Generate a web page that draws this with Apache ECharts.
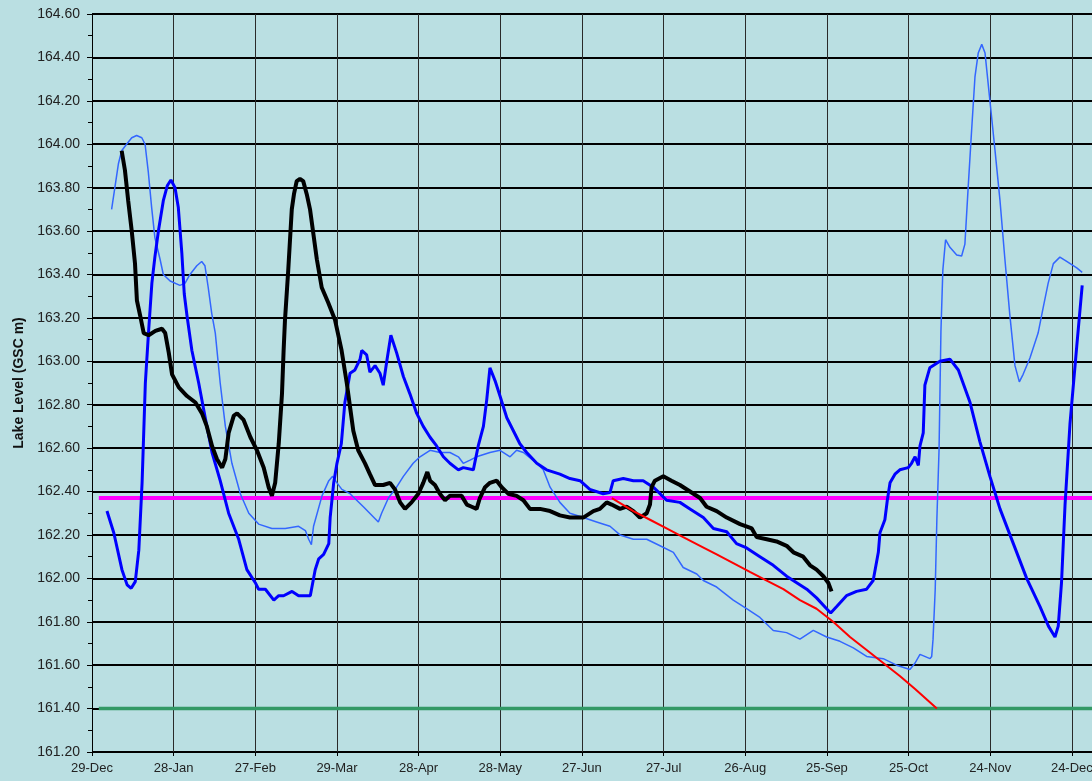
<!DOCTYPE html>
<html>
<head>
<meta charset="utf-8">
<script src="https://cdn.jsdelivr.net/npm/echarts@6/dist/echarts.min.js"></script>
<style>
html,body{margin:0;padding:0;background:#badfe2;}
#chart{width:1092px;height:781px;}
</style>
</head>
<body>
<div id="chart"></div>
<script>
// x values are days after 29-Dec
const tickLabels = ['29-Dec','28-Jan','27-Feb','29-Mar','28-Apr','28-May','27-Jun','27-Jul','26-Aug','25-Sep','25-Oct','24-Nov','24-Dec'];

const thinBlue = [
[7.2,163.70],[8.4,163.80],[9.7,163.91],[10.9,163.97],[12.7,164.00],[14.6,164.03],[16.4,164.04],[18.3,164.03],
[19.5,164.00],[20.7,163.87],[21.9,163.71],[23.1,163.57],[25.0,163.47],[26.2,163.40],[28.7,163.37],[32.3,163.35],
[34.2,163.36],[36.0,163.40],[38.5,163.44],[40.3,163.46],[41.5,163.44],[42.7,163.34],[44.0,163.22],[45.3,163.13],
[47.1,162.90],[49.0,162.70],[51.4,162.53],[54.5,162.39],[57.6,162.30],[61.2,162.25],[66.1,162.23],[71.0,162.23],
[75.9,162.24],[78.4,162.22],[79.6,162.18],[80.6,162.155],[81.4,162.24],[84.5,162.38],[87.0,162.45],[88.4,162.47],
[90.0,162.44],[91.8,162.41],[94.8,162.39],[99.7,162.33],[105.2,162.26],[106.4,162.30],[108.9,162.37],[111.9,162.42],
[114.4,162.47],[118.0,162.53],[120.5,162.56],[124.2,162.59],[127.8,162.58],[131.5,162.58],[134.6,162.56],[136.4,162.53],
[138.9,162.545],[141.3,162.56],[146.2,162.58],[149.9,162.59],[153.6,162.56],[156.0,162.59],[158.5,162.58],[163.4,162.53],
[165.8,162.50],[168.3,162.42],[171.9,162.35],[175.6,162.30],[180.5,162.28],[185.4,162.26],[190.3,162.24],[194.0,162.20],
[198.9,162.18],[203.8,162.18],[208.7,162.15],[213.6,162.12],[217.2,162.05],[222.2,162.02],[224.6,161.99],[229.5,161.96],
[235.6,161.90],[240.5,161.86],[245.4,161.82],[250.3,161.76],[255.2,161.75],[260.1,161.72],[265.0,161.76],[269.9,161.73],
[274.8,161.71],[279.7,161.68],[284.6,161.64],[290.7,161.63],[295.6,161.60],[300.5,161.58],[302.4,161.61],[304.2,161.65],
[307.9,161.63],[308.5,161.64],[309.0,161.72],[309.8,161.95],[310.4,162.27],[311.2,162.59],[311.9,163.14],[312.6,163.42],
[313.6,163.56],[315.2,163.525],[317.7,163.49],[319.5,163.485],[320.7,163.54],[321.9,163.80],[323.2,164.07],[324.4,164.31],
[325.6,164.42],[326.9,164.46],[328.1,164.42],[329.9,164.20],[331.7,163.98],[333.6,163.74],[335.4,163.47],[337.2,163.215],
[339.1,162.98],[340.7,162.905],[342.1,162.94],[344.6,163.015],[347.6,163.13],[349.5,163.25],[351.3,163.36],[353.2,163.45],
[355.6,163.48],[358.1,163.46],[361.8,163.43],[363.8,163.41]
];

const blueThick = [
[5.5,162.31],[8.0,162.21],[11.0,162.04],[12.9,161.97],[14.4,161.954],[15.9,161.985],[17.2,162.13],[18.4,162.44],
[19.6,162.90],[20.8,163.14],[22.0,163.36],[23.1,163.48],[24.4,163.60],[26.2,163.74],[27.7,163.81],[29.0,163.835],
[30.5,163.80],[31.7,163.71],[33.0,163.50],[33.9,163.31],[34.9,163.21],[36.7,163.05],[39.2,162.90],[41.6,162.74],
[44.1,162.58],[47.1,162.45],[50.2,162.30],[53.9,162.18],[56.9,162.04],[60.0,161.98],[61.2,161.95],[63.7,161.95],
[66.8,161.90],[68.6,161.92],[70.4,161.92],[73.5,161.94],[75.9,161.92],[80.2,161.92],[81.1,161.98],[82.0,162.04],
[83.3,162.09],[85.1,162.11],[87.0,162.16],[87.5,162.28],[88.8,162.44],[90.0,162.53],[91.6,162.62],[92.9,162.81],
[94.8,162.945],[96.6,162.96],[98.5,163.01],[99.1,163.05],[100.9,163.03],[102.1,162.95],[104.0,162.98],[105.8,162.945],
[107.0,162.89],[108.3,163.00],[109.8,163.12],[111.9,163.04],[114.4,162.93],[116.8,162.85],[119.3,162.76],[121.7,162.70],
[124.2,162.65],[126.6,162.61],[129.1,162.56],[131.5,162.53],[134.6,162.50],[136.4,162.51],[140.1,162.50],[141.9,162.61],
[143.8,162.70],[145.0,162.82],[146.2,162.97],[148.1,162.91],[149.9,162.84],[152.4,162.74],[154.8,162.68],[157.2,162.62],
[159.7,162.58],[163.4,162.53],[167.0,162.50],[171.9,162.48],[175.6,162.46],[179.3,162.45],[182.9,162.41],[187.8,162.39],
[190.3,162.395],[191.5,162.45],[195.2,162.46],[198.9,162.45],[202.5,162.45],[206.2,162.42],[208.7,162.39],[211.1,162.36],
[216.0,162.35],[219.7,162.32],[224.6,162.28],[228.3,162.23],[233.2,162.215],[236.8,162.16],[240.5,162.14],[245.4,162.10],
[250.3,162.06],[255.2,162.01],[258.9,161.98],[262.6,161.95],[266.2,161.91],[269.9,161.86],[271.4,161.84],[273.6,161.87],
[277.2,161.92],[280.9,161.94],[284.6,161.95],[287.0,161.99],[288.9,162.12],[289.5,162.21],[291.3,162.27],[292.2,162.36],
[293.2,162.44],[295.0,162.48],[296.8,162.50],[299.9,162.51],[301.1,162.53],[302.4,162.56],[303.6,162.52],[304.2,162.61],
[305.4,162.67],[306.0,162.89],[307.8,162.97],[311.5,163.00],[315.2,163.01],[318.3,162.96],[322.6,162.81],[326.2,162.63],
[329.9,162.47],[333.6,162.32],[338.5,162.16],[343.4,162.00],[348.3,161.87],[351.4,161.78],[353.8,161.73],[355.0,161.78],
[356.2,161.98],[357.5,162.34],[359.3,162.71],[361.8,163.07],[363.8,163.35]
];

const blackThick = [
[10.9,163.97],[12.1,163.88],[13.3,163.74],[14.6,163.60],[15.8,163.45],[16.5,163.28],[17.7,163.21],[19.0,163.13],
[20.8,163.12],[23.3,163.14],[25.7,163.15],[26.9,163.13],[28.2,163.04],[29.4,162.94],[31.9,162.88],[34.9,162.84],
[38.0,162.81],[40.4,162.76],[42.2,162.70],[44.1,162.61],[45.9,162.55],[47.8,162.51],[49.0,162.55],[50.2,162.67],
[52.1,162.75],[53.3,162.76],[55.7,162.73],[58.2,162.65],[60.6,162.59],[63.1,162.51],[64.9,162.42],[66.1,162.38],
[67.3,162.44],[68.6,162.62],[69.8,162.85],[70.4,163.05],[70.9,163.19],[72.1,163.42],[73.4,163.70],[74.2,163.77],
[75.2,163.83],[76.4,163.84],[77.6,163.83],[78.9,163.77],[80.1,163.70],[81.3,163.59],[82.6,163.47],[84.4,163.34],
[86.8,163.27],[89.3,163.19],[91.7,163.05],[93.6,162.90],[94.8,162.79],[96.0,162.68],[97.8,162.59],[100.3,162.53],
[102.1,162.48],[104.0,162.43],[107.0,162.43],[109.5,162.44],[111.3,162.41],[113.2,162.35],[115.0,162.32],[117.4,162.35],
[119.9,162.39],[121.7,162.44],[123.2,162.49],[124.2,162.45],[126.0,162.43],[127.8,162.39],[129.7,162.36],[131.5,162.38],
[134.0,162.38],[135.8,162.38],[137.7,162.34],[139.5,162.33],[141.3,162.32],[142.5,162.37],[144.4,162.42],[146.2,162.44],
[148.7,162.45],[150.5,162.42],[152.9,162.39],[156.0,162.38],[158.5,162.36],[160.9,162.32],[164.6,162.32],[168.3,162.31],
[171.9,162.29],[175.6,162.28],[180.5,162.28],[184.2,162.31],[186.6,162.32],[189.1,162.35],[190.9,162.34],[194.0,162.32],
[196.4,162.33],[198.9,162.31],[201.3,162.28],[203.8,162.30],[205.0,162.34],[205.6,162.42],[206.8,162.45],[209.9,162.47],
[212.9,162.45],[216.0,162.43],[219.7,162.40],[223.4,162.37],[225.8,162.33],[229.5,162.31],[233.2,162.28],[238.1,162.25],
[242.4,162.23],[244.2,162.19],[247.9,162.18],[251.5,162.17],[255.2,162.15],[257.7,162.12],[261.3,162.10],[263.8,162.06],
[266.2,162.04],[268.7,162.01],[270.5,161.98],[271.7,161.94]
];

const redForecast = [
[191.0,162.37],[198.9,162.31],[205.0,162.27],[211.1,162.23],[217.2,162.19],[223.4,162.15],[229.5,162.11],[235.6,162.07],
[241.7,162.03],[247.9,161.99],[254.0,161.95],[260.1,161.90],[266.2,161.86],[272.3,161.80],[278.5,161.73],[284.6,161.67],
[290.7,161.61],[296.8,161.55],[302.4,161.49],[310.4,161.40]
];

const magentaLevel = [[2.5,162.37],[367.4,162.37]];
const greenLevel = [[2.5,161.40],[367.4,161.40]];

const chart = echarts.init(document.getElementById('chart'), null, {renderer:'canvas'});
const FONT = '"Liberation Sans", Arial, sans-serif';
function line(data, color, width, z){
  return {type:'line', data:data, showSymbol:false, symbol:'none', smooth:false, z:z,
    lineStyle:{color:color, width:width}, emphasis:{disabled:true}, silent:true};
}
chart.setOption({
  animation:false,
  backgroundColor:'#badfe2',
  grid:{left:92, right:0, top:14, bottom:29, containLabel:false, outerBoundsMode:'none'},
  xAxis:{
    type:'value', min:0, max:367.4, interval:30,
    axisLine:{show:true, onZero:false, lineStyle:{color:'#000', width:1}},
    axisTick:{show:true, length:4, lineStyle:{color:'#000'}},
    splitLine:{show:true, lineStyle:{color:'#2a2a2a', width:1}},
    axisLabel:{margin:10, fontSize:13, color:'#222', fontFamily:FONT,
      formatter:function(v){ return (Math.abs(v % 30) < 1e-6) ? (tickLabels[Math.round(v/30)] || '') : ''; }}
  },
  yAxis:{
    type:'value', min:161.2, max:164.6, interval:0.2,
    name:'Lake Level (GSC m)', nameLocation:'middle', nameGap:63,
    nameTextStyle:{fontSize:14, fontWeight:'bold', color:'#111', fontFamily:FONT},
    axisLine:{show:true, lineStyle:{color:'#000', width:1}},
    axisTick:{show:true, length:5, lineStyle:{color:'#000'}},
    minorTick:{show:true, splitNumber:2, length:4, lineStyle:{color:'#000'}},
    splitLine:{show:true, lineStyle:{color:'#000', width:2}},
    axisLabel:{margin:12, fontSize:14, color:'#222', fontFamily:FONT,
      formatter:function(v){ return v.toFixed(2); }}
  },
  series:[
    line(greenLevel, '#339966', 3.5, 2),
    line(magentaLevel, '#ff00ff', 4, 2),
    line(thinBlue, '#3366ff', 1.5, 3),
    line(blueThick, '#0000ff', 3, 4),
    line(blackThick, '#000000', 4, 5),
    line(redForecast, '#ff0000', 2, 6)
  ]
});
</script>
</body>
</html>
